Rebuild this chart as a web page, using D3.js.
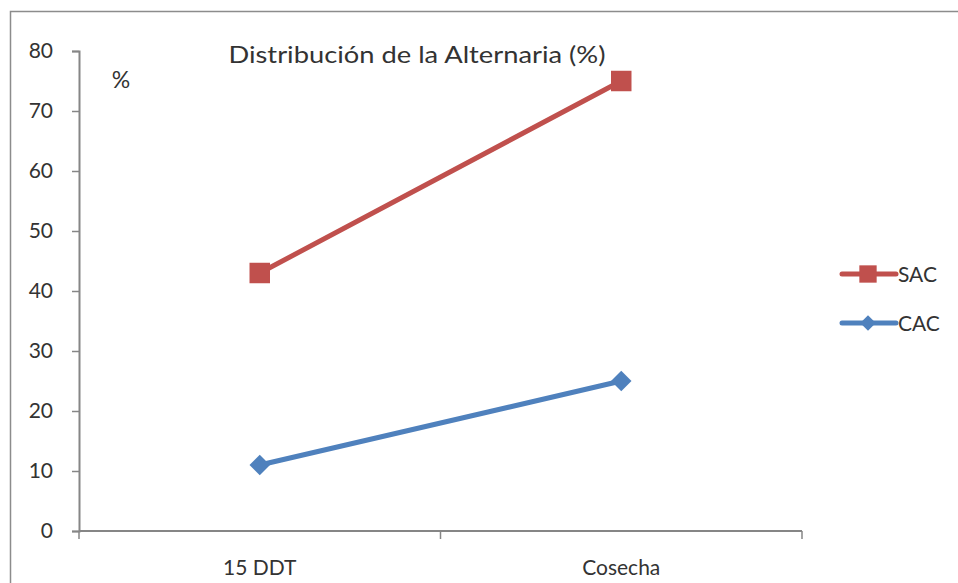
<!DOCTYPE html>
<html>
<head>
<meta charset="utf-8">
<script src="https://cdn.jsdelivr.net/npm/d3@7"></script>
<style>
  html, body { margin: 0; padding: 0; background: #fff; }
  svg { display: block; }
  text { font-family: Lato, "Open Sans", "Liberation Sans", sans-serif; fill: #333; }
</style>
</head>
<body>
<svg id="chart" width="958" height="583"></svg>
<script>
// Chart data
const categories = ["15 DDT", "Cosecha"];
const sacValues = [43, 75];
const cacValues = [11, 25];
const seriesNames = ["SAC", "CAC"];
const yTicks = [0, 10, 20, 30, 40, 50, 60, 70, 80];
const titleText = "Distribución de la Alternaria (%)";
const unitText = "%";

const svg = d3.select("#chart");
const W = 958, H = 583;

// Outer frame (left and top edges visible)
svg.append("path")
  .attr("d", `M10.5,${H} L10.5,11.5 L${W},11.5`)
  .attr("fill", "none").attr("stroke", "#8c8c8c").attr("stroke-width", 1.5);

const plot = { left: 79, right: 802, top: 51, bottom: 531 };

const x = d3.scaleBand().domain(categories).range([plot.left, plot.right]);
const y = d3.scaleLinear().domain([0, 80]).range([plot.bottom, plot.top]);

const axisColor = "#868686";

// Y axis
const yAxis = svg.append("g")
  .attr("transform", `translate(${plot.left},0)`)
  .call(d3.axisLeft(y).tickValues(yTicks).tickSize(7).tickPadding(19).tickFormat(d3.format("d")));
yAxis.select(".domain").attr("stroke", axisColor).attr("stroke-width", 2);
yAxis.selectAll(".tick line").attr("stroke", axisColor).attr("stroke-width", 1.5);
yAxis.selectAll(".tick text").attr("font-size", 21).attr("fill", "#333")
  .style("font-family", "Lato, 'Open Sans', sans-serif");

// X axis: line with boundary ticks between categories
const xg = svg.append("g");
xg.append("line")
  .attr("x1", plot.left).attr("x2", plot.right)
  .attr("y1", plot.bottom).attr("y2", plot.bottom)
  .attr("stroke", axisColor).attr("stroke-width", 2);
const boundaries = categories.map(c => x(c)).concat([x(categories[categories.length - 1]) + x.bandwidth()]);
xg.selectAll("line.bt").data(boundaries).enter().append("line")
  .attr("class", "bt")
  .attr("x1", d => d).attr("x2", d => d)
  .attr("y1", plot.bottom).attr("y2", plot.bottom + 8)
  .attr("stroke", axisColor).attr("stroke-width", 1.5);
xg.selectAll("text.cat").data(categories).enter().append("text")
  .attr("class", "cat")
  .attr("x", d => x(d) + x.bandwidth() / 2)
  .attr("y", 575)
  .attr("text-anchor", "middle")
  .attr("font-size", 21)
  .text(d => d);

// Title and unit label
svg.append("text")
  .attr("x", 417).attr("y", 63)
  .attr("text-anchor", "middle")
  .attr("font-size", 24)
  .attr("textLength", 377).attr("lengthAdjust", "spacingAndGlyphs")
  .text(titleText);
svg.append("text")
  .attr("x", 121).attr("y", 88)
  .attr("text-anchor", "middle")
  .attr("font-size", 23)
  .text(unitText);

const cx = d => x(d) + x.bandwidth() / 2;
const line = d3.line().x(d => cx(d.c)).y(d => y(d.v));

// Square markers; the diamond is the same square turned 45 degrees
const series = [
  { name: seriesNames[0], values: sacValues, color: "#C0504D", rot: 0, size: 420, legendSize: 300 },
  { name: seriesNames[1], values: cacValues, color: "#4F81BD", rot: 45, size: 210, legendSize: 120 }
];

series.forEach(s => {
  const pts = categories.map((c, i) => ({ c, v: s.values[i] }));
  svg.append("path")
    .datum(pts)
    .attr("d", line)
    .attr("fill", "none")
    .attr("stroke", s.color)
    .attr("stroke-width", 5)
    .attr("stroke-linecap", "round");
  svg.selectAll(null).data(pts).enter().append("path")
    .attr("transform", d => `translate(${cx(d.c)},${y(d.v)}) rotate(${s.rot})`)
    .attr("d", d3.symbol().type(d3.symbolSquare).size(s.size))
    .attr("fill", s.color);
});

// Legend
const legend = svg.append("g");
series.forEach((s, i) => {
  const ly = 274 + i * 49;
  const g = legend.append("g").attr("transform", `translate(0,${ly})`);
  g.append("line").attr("x1", 842).attr("x2", 896).attr("y1", 0).attr("y2", 0)
    .attr("stroke", s.color).attr("stroke-width", 5).attr("stroke-linecap", "round");
  g.append("path").attr("transform", `translate(868,0) rotate(${s.rot})`)
    .attr("d", d3.symbol().type(d3.symbolSquare).size(s.legendSize))
    .attr("fill", s.color);
  g.append("text").attr("x", 898).attr("y", 8).attr("font-size", 21).text(s.name);
});
</script>
</body>
</html>
